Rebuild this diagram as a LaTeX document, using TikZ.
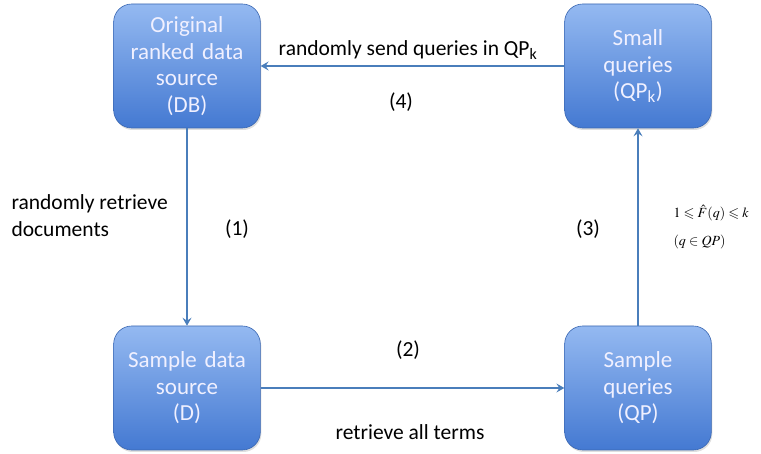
\documentclass[tikz,border=0pt]{standalone}
\usepackage{amssymb}
\usepackage{mathptmx}
\usepackage[no-math]{fontspec}
\setmainfont{Carlito}
\usetikzlibrary{shadows,arrows.meta}
\definecolor{boxtop}{HTML}{94B9F1}
\definecolor{boxbot}{HTML}{4479D2}
\definecolor{arrowblue}{HTML}{4A7EBB}
\tikzset{
  store/.style={draw=boxbot!85!black, line width=0.6pt, rounded corners=18pt,
    top color=boxtop, bottom color=boxbot, minimum width=145pt,
    minimum height=124pt, text width=140pt, align=center,
    text=white!94!blue, font=\fontsize{23}{26.5}\selectfont,
    drop shadow={opacity=0.25, shadow xshift=1pt, shadow yshift=-2pt}},
  flow/.style={->, draw=arrowblue, line width=1.8pt},
  lbl/.style={font=\fontsize{21.5}{27}\selectfont, align=left}
}
\begin{document}
\begin{tikzpicture}[>={Stealth[length=8pt,width=9pt,inset=3pt]}, x=1pt, y=-1pt]
  \useasboundingbox (0,0) rectangle (761,454);
  % boxes
  \node[store] (db) at (187,66) {Original\\ranked data\\source\\(DB)};
  \node[store] (qpk) at (638,66) {Small\\queries\\(QP\textsubscript{k})};
  \node[store] (d) at (187,388) {Sample data\\source\\(D)};
  \node[store] (qp) at (638,388) {Sample\\queries\\(QP)};
  % flows
  \draw[flow] (db) -- (d);
  \draw[flow] (d) -- (qp);
  \draw[flow] (qp) -- (qpk);
  \draw[flow] (qpk) -- (db);
  % labels
  \node[lbl] (send) at (408,50) {randomly send queries in QP\textsubscript{k}};
  \node[lbl] (n4) at (401,102) {(4)};
  \node[lbl, anchor=west] (retr) at (8,216) {randomly retrieve\\documents};
  \node[lbl] (n1) at (237,229) {(1)};
  \node[lbl] (n3) at (588,229) {(3)};
  \node[font=\fontsize{14}{16}\selectfont, anchor=west] (cond) at (670,213)
    {$1\leqslant\hat{F}(q)\leqslant k$};
  \node[font=\fontsize{14}{16}\selectfont, anchor=west] (dom) at (670,242)
    {$(q\in QP)$};
  \node[lbl] (n2) at (408,350) {(2)};
  \node[lbl] (terms) at (410,432) {retrieve all terms};
\end{tikzpicture}
\end{document}
